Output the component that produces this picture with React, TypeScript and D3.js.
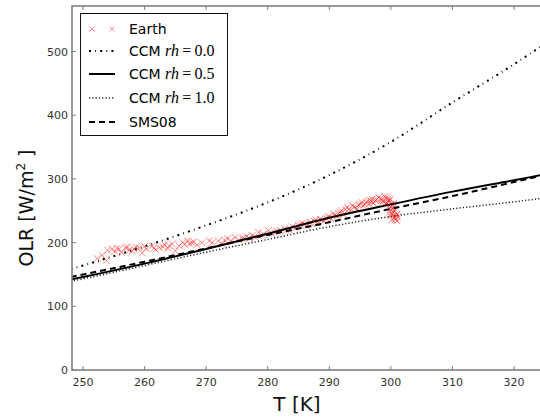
import React from 'react';
import * as d3 from 'd3';

// Model curves (OLR in W/m^2 vs surface temperature T in K)
const T_GRID = [248, 250, 260, 270, 280, 290, 300, 310, 320, 325];
const OLR_RH00 = [158, 164, 194, 227, 263, 306, 358, 420, 480, 512];
const OLR_RH05 = [142, 146, 167, 190, 214, 239, 260, 280, 298, 307];
const OLR_RH10 = [139, 143, 164, 185, 205, 225, 241, 253, 264, 270];
const OLR_SMS08 = [146, 150, 170, 191, 212, 232, 253, 273, 295, 306];

// Earth observations
const EARTH_T = [
  252.3, 253.1, 253.8, 254.7, 255.2, 255.9, 256.3, 256.9, 257.5, 258.0,
  258.6, 259.1, 259.6, 260.3, 261.2, 261.8, 262.4, 263.2, 263.8, 264.5,
  265.0, 265.6, 266.2, 267.0, 267.3, 267.7, 268.5, 269.3, 270.5, 272.0,
  272.6, 273.5, 274.7, 275.3, 275.9, 276.6, 277.5, 278.0, 278.5, 279.3,
  280.1, 280.7, 281.2, 282.0, 282.8, 283.5, 284.5, 285.0, 285.6, 286.3,
  286.9, 287.5, 288.0, 288.5, 289.2, 289.8, 290.3, 290.7, 291.3, 291.8,
  292.3, 292.9, 293.4, 294.0, 294.5, 295.0, 295.5, 296.0, 296.7, 297.2,
  297.7, 298.3, 298.8, 299.4, 299.6, 299.8, 300.0, 300.2, 300.4, 300.6,
  300.8, 301.0, 301.0, 300.5, 299.2, 299.9, 300.3,
  254.0, 255.5, 257.2, 258.3, 260.0, 261.5, 263.0, 264.0, 266.5, 268.0,
  271.0, 273.0, 274.0, 276.0, 277.0, 279.0, 281.5, 283.0, 284.0,
  285.3, 286.0, 287.0, 287.8, 288.8, 289.5, 290.0, 290.9, 291.5, 292.0,
  292.6, 293.2, 293.8, 294.3, 294.8, 295.3, 295.8, 296.3, 296.9, 297.5,
  298.0, 298.5, 299.0, 299.5, 299.7, 300.1, 300.0, 300.3, 300.6, 300.9,
  301.1, 300.7, 300.4, 299.8, 299.9, 300.2, 299.3, 298.6, 297.0, 296.5,
];
const EARTH_OLR = [
  175, 180, 172, 190, 186, 190, 184, 192, 188, 187,
  193, 192, 184, 190, 195, 189, 192, 197, 191, 198,
  187, 195, 200, 203, 198, 200, 196, 200, 203, 203,
  198, 206, 208, 204, 206, 210, 211, 208, 216, 213,
  219, 214, 216, 219, 222, 220, 223, 227, 230, 226,
  231, 234, 230, 237, 234, 240, 237, 245, 241, 248,
  244, 255, 250, 256, 252, 261, 258, 263, 266, 262,
  268, 269, 266, 271, 264, 258, 252, 246, 255, 240,
  236, 245, 234, 262, 260, 268, 249,
  188, 191, 193, 190, 194, 191, 193, 195, 197, 201,
  200, 204, 203, 208, 207, 212, 218, 219, 225,
  228, 229, 232, 236, 235, 238, 241, 243, 246, 250,
  252, 253, 258, 255, 259, 263, 260, 266, 264, 266,
  271, 267, 272, 268, 266, 262, 256, 259, 250, 243,
  240, 238, 243, 248, 242, 236, 263, 262, 268, 261,
];

const X_TICKS = [250, 260, 270, 280, 290, 300, 310, 320];
const Y_TICKS = [0, 100, 200, 300, 400, 500];

const FONT = '"DejaVu Sans", Verdana, sans-serif';
const MATH = '"Liberation Serif", "DejaVu Serif", serif';
const DASHDOT = '2,4.2,0.8,4.2';
const DOTTED = '1.2,2.1';
const DASHED = '6,4';

export default function App() {
  const W = 540, H = 419;
  const left = 72, right = 545, top = 6, bottom = 370;
  const x = d3.scaleLinear().domain([250, 320]).range([83, 514]);
  const y = d3.scaleLinear().domain([0, 500]).range([370, 51.5]);

  const mk = (vals: number[]) =>
    d3.line<number>()
      .x((_, i) => x(T_GRID[i]))
      .y((d) => y(d))
      .curve(d3.curveMonotoneX)(vals) || '';

  const spine = '#7f7f7f';
  const red = '#ff1a1a';
  const xMark = (s: number) => `M${-s},${-s}L${s},${s}M${-s},${s}L${s},${-s}`;

  const legendRows = [29, 51, 74, 98, 122];
  const hx0 = 89, hx1 = 115, tx = 129;

  return (
    <div style={{ position: 'absolute', left: 0, top: 0 }}>
      <svg width={W} height={H} style={{ display: 'block', background: '#fff' }}>
        <defs>
          <clipPath id="plot">
            <rect x={left} y={top} width={right - left} height={bottom - top} />
          </clipPath>
        </defs>
        <rect x={0} y={0} width={W} height={H} fill="#fff" />

        <g clipPath="url(#plot)">
          {EARTH_T.map((t, i) => (
            <path key={i} d={xMark(3.4)} transform={`translate(${x(t)},${y(EARTH_OLR[i])})`}
              stroke={red} strokeOpacity={0.5} strokeWidth={1} fill="none" />
          ))}
          <path d={mk(OLR_RH00)} fill="none" stroke="#000" strokeWidth={2} strokeDasharray={DASHDOT} />
          <path d={mk(OLR_RH10)} fill="none" stroke="#222" strokeWidth={1.5} strokeDasharray={DOTTED} />
          <path d={mk(OLR_SMS08)} fill="none" stroke="#000" strokeWidth={2} strokeDasharray={DASHED} />
          <path d={mk(OLR_RH05)} fill="none" stroke="#000" strokeWidth={2} />
        </g>

        {/* ticks */}
        {X_TICKS.map((t) => (
          <g key={'xt' + t}>
            <line x1={x(t)} x2={x(t)} y1={bottom} y2={bottom - 4} stroke={spine} strokeWidth={1} />
            <line x1={x(t)} x2={x(t)} y1={top} y2={top + 4} stroke={spine} strokeWidth={1} />
            <text x={x(t)} y={bottom + 16} textAnchor="middle" fontFamily={FONT} fontSize={11} fill="#333">{t}</text>
          </g>
        ))}
        {Y_TICKS.map((v) => (
          <g key={'yt' + v}>
            <line x1={left} x2={left + 4} y1={y(v)} y2={y(v)} stroke={spine} strokeWidth={1} />
            <line x1={right} x2={right - 5} y1={y(v)} y2={y(v)} stroke={spine} strokeWidth={1} />
            <text x={left - 4} y={y(v) + 4} textAnchor="end" fontFamily={FONT} fontSize={11} fill="#333">{v}</text>
          </g>
        ))}

        {/* spines */}
        <rect x={left} y={top} width={right - left} height={bottom - top} fill="none" stroke={spine} strokeWidth={1.6} />

        {/* axis labels */}
        <text x={297} y={411} textAnchor="middle" fontFamily={FONT} fontSize={20} fill="#111">T [K]</text>
        <text transform={`translate(33,208) rotate(-90)`} textAnchor="middle" fontFamily={FONT} fontSize={19} fill="#111">
          OLR [W/m<tspan fontSize={12} dy={-8}>2</tspan><tspan dy={8}> ]</tspan>
        </text>

        {/* legend */}
        <rect x={80.5} y={13.5} width={147} height={122} fill="#fff" stroke="#111" strokeWidth={1} />
        <path d={xMark(2.5)} transform={`translate(92,${legendRows[0]})`} stroke={red} strokeOpacity={0.5} fill="none" />
        <path d={xMark(2.5)} transform={`translate(112,${legendRows[0]})`} stroke={red} strokeOpacity={0.5} fill="none" />
        <line x1={hx0} x2={hx1} y1={legendRows[1]} y2={legendRows[1]} stroke="#000" strokeWidth={2} strokeDasharray={DASHDOT} />
        <line x1={hx0} x2={hx1} y1={legendRows[2]} y2={legendRows[2]} stroke="#000" strokeWidth={2} />
        <line x1={hx0} x2={hx1} y1={legendRows[3]} y2={legendRows[3]} stroke="#222" strokeWidth={1.5} strokeDasharray={DOTTED} />
        <line x1={hx0} x2={hx1} y1={legendRows[4]} y2={legendRows[4]} stroke="#000" strokeWidth={2} strokeDasharray={DASHED} />

        <text x={tx} y={legendRows[0] + 5} fontFamily={FONT} fontSize={14} fill="#000">Earth</text>
        {['0.0', '0.5', '1.0'].map((v, i) => (
          <text key={v} x={tx} y={legendRows[i + 1] + 5} fontFamily={FONT} fontSize={14} fill="#000">
            CCM <tspan fontFamily={MATH} fontStyle="italic" fontSize={16}>rh</tspan>
            <tspan fontFamily={MATH} fontSize={16}>{'\u2009=\u2009' + v}</tspan>
          </text>
        ))}
        <text x={tx} y={legendRows[4] + 5} fontFamily={FONT} fontSize={14} fill="#000">SMS08</text>
      </svg>
    </div>
  );
}
